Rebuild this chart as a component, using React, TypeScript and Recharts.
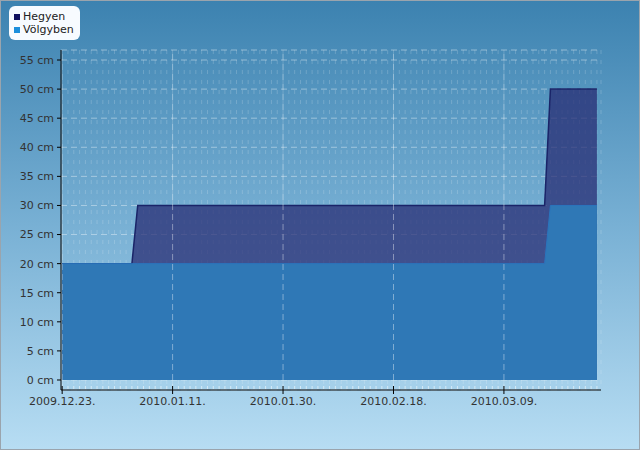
import { Area, AreaChart, CartesianGrid, ReferenceLine, XAxis, YAxis } from 'recharts'

// day offsets from 2009.12.23.
const days = [0, 12, 13, 83, 84, 92]
const hegyen = [20, 20, 30, 30, 50, 50]
const volgyben = [20, 20, 20, 20, 30, 30]

const majorDays = [0, 19, 38, 57, 76]
const majorLabels = ['2009.12.23.', '2010.01.11.', '2010.01.30.', '2010.02.18.', '2010.03.09.']
const yTicks = [0, 5, 10, 15, 20, 25, 30, 35, 40, 45, 50, 55]

const legendItems = [
  { name: 'Hegyen', color: '#10105e' },
  { name: 'Völgyben', color: '#1b8fdc' },
]

const data = days.map((d, i) => ({ day: d, hegyen: hegyen[i], volgyben: volgyben[i] }))
const dailyTicks = Array.from({ length: 93 }, (_, i) => i)

const font = '"DejaVu Sans", Verdana, sans-serif'

function DayTick(props: any) {
  const { x, y, payload } = props
  const idx = majorDays.indexOf(payload.value)
  if (idx < 0) {
    return <line x1={x} x2={x} y1={y - 4} y2={y - 1} stroke="rgba(255,255,255,0.55)" />
  }
  return (
    <g>
      <line x1={x} x2={x} y1={y - 4} y2={y + 4} stroke="#000" />
      <text x={x} y={y + 15} textAnchor="middle" fontSize={11} fill="#333" fontFamily={font}>
        {majorLabels[idx]}
      </text>
    </g>
  )
}

function LegendBox() {
  return (
    <div
      style={{
        position: 'absolute',
        top: 5,
        left: 8,
        background: '#f7fbff',
        borderRadius: 6,
        padding: '4px 6px 4px 5px',
        fontFamily: font,
        fontSize: 11,
        color: '#222',
        lineHeight: '13px',
      }}
    >
      {legendItems.map((it) => (
        <div key={it.name} style={{ display: 'flex', alignItems: 'center' }}>
          <span style={{ width: 6, height: 6, background: it.color, marginRight: 3, display: 'inline-block' }} />
          {it.name}
        </div>
      ))}
    </div>
  )
}

export default function App() {
  return (
    <div
      style={{
        position: 'absolute',
        top: 0,
        left: 0,
        width: 640,
        height: 450,
        boxSizing: 'border-box',
        border: '1px solid #9aa4ad',
        background: 'linear-gradient(180deg, #3c82b0 0%, #78b0d4 50%, #b7ddf3 100%)',
      }}
    >
      <AreaChart width={638} height={448} data={data} margin={{ top: 49, right: 38, bottom: 29, left: 0 }}>
        <XAxis
          dataKey="day"
          type="number"
          domain={[-0.2, 92.7]}
          ticks={dailyTicks}
          interval={0}
          tick={<DayTick />}
          tickLine={false}
          tickSize={0}
          tickMargin={0}
          height={30}
          axisLine={{ stroke: '#000' }}
          allowDataOverflow
        />
        <YAxis
          type="number"
          domain={[-1.72, 56.72]}
          ticks={yTicks}
          interval={0}
          width={60}
          tickSize={4}
          tickMargin={3}
          tickLine={{ stroke: '#000' }}
          axisLine={{ stroke: '#000' }}
          tickFormatter={(v) => `${v} cm`}
          tick={{ fontSize: 11, fill: '#333', fontFamily: font }}
          allowDataOverflow
        />
        <Area
          dataKey="hegyen"
          type="linear"
          stroke="#1a2468"
          strokeWidth={1.5}
          fill="#262870"
          fillOpacity={0.72}
          isAnimationActive={false}
        />
        <Area
          dataKey="volgyben"
          type="linear"
          stroke="#2a74bd"
          strokeWidth={1}
          fill="#2f78b6"
          fillOpacity={1}
          isAnimationActive={false}
        />
        <CartesianGrid horizontal={false} stroke="rgba(255,255,255,0.18)" strokeDasharray="4 6" />
        <CartesianGrid vertical={false} stroke="rgba(255,255,255,0.4)" strokeDasharray="6 4" />
        {majorDays.map((d) => (
          <ReferenceLine key={d} x={d} stroke="rgba(255,255,255,0.4)" strokeDasharray="6 4" />
        ))}
      </AreaChart>
      <LegendBox />
    </div>
  )
}
